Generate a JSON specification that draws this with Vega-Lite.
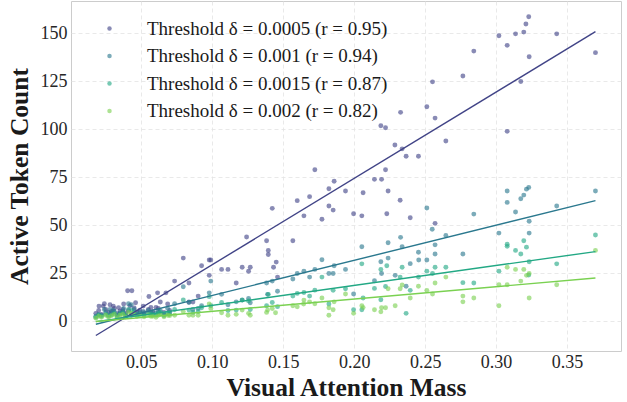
{
"$schema": "https://vega.github.io/schema/vega-lite/v6.json",
"width": 550, "height": 350,
"autosize": {"type": "none"},
"padding": {"left": 71, "top": 1, "right": 6, "bottom": 51},
"background": "white",
"config": {
 "view": {"stroke": "#cccccc", "strokeWidth": 1},
 "font": "Liberation Serif",
 "style": {"guide-label": {"font": "Liberation Serif"}, "guide-title": {"font": "Liberation Serif"}},
 "axis": {"domain": false, "ticks": false, "grid": true, "gridColor": "#e3e3e3", "gridDash": [4, 3], "gridWidth": 0.8,
  "labelFont": "Liberation Serif", "labelFontSize": 18, "labelColor": "#262626",
  "titleFont": "Liberation Serif", "titleFontSize": 25.5, "titleFontWeight": "bold", "titleColor": "#1a1a1a"}
},
"datasets": {"pts": [
{"t":"a","x":0.323,"y":158.5},{"t":"a","x":0.321,"y":154.7},{"t":"a","x":0.3195,"y":150.5},{"t":"a","x":0.3137,"y":149.6},{"t":"a","x":0.302,"y":148.6},{"t":"a","x":0.3078,"y":143.6},{"t":"a","x":0.3427,"y":149.6},{"t":"a","x":0.37,"y":139.8},{"t":"a","x":0.3233,"y":137.7},{"t":"a","x":0.2843,"y":140.6},{"t":"a","x":0.2766,"y":127.6},{"t":"a","x":0.3174,"y":124.8},{"t":"a","x":0.2552,"y":124.6},{"t":"a","x":0.3078,"y":98.8},{"t":"a","x":0.2512,"y":111.6},{"t":"a","x":0.257,"y":105.7},{"t":"a","x":0.2327,"y":108.7},{"t":"a","x":0.2188,"y":101.7},{"t":"a","x":0.2221,"y":100.7},{"t":"a","x":0.2646,"y":93.8},{"t":"a","x":0.2287,"y":91.7},{"t":"a","x":0.2338,"y":89.7},{"t":"a","x":0.2366,"y":85.8},{"t":"a","x":0.2453,"y":85.8},{"t":"a","x":0.1723,"y":78.8},{"t":"a","x":0.2221,"y":78.8},{"t":"a","x":0.2143,"y":73.8},{"t":"a","x":0.2193,"y":73.8},{"t":"a","x":0.1859,"y":72.8},{"t":"a","x":0.1822,"y":68.9},{"t":"a","x":0.1939,"y":67.7},{"t":"a","x":0.2063,"y":66.8},{"t":"a","x":0.2239,"y":67.7},{"t":"a","x":0.1686,"y":64.8},{"t":"a","x":0.2324,"y":62.9},{"t":"a","x":0.1822,"y":59.9},{"t":"a","x":0.1852,"y":57.8},{"t":"a","x":0.1646,"y":54.8},{"t":"a","x":0.1773,"y":53.0},{"t":"a","x":0.1996,"y":55.9},{"t":"a","x":0.2054,"y":54.8},{"t":"a","x":0.223,"y":55.9},{"t":"a","x":0.2395,"y":53.8},{"t":"a","x":0.257,"y":50.9},{"t":"a","x":0.1423,"y":58.7},{"t":"a","x":0.1599,"y":62.7},{"t":"a","x":0.1242,"y":43.8},{"t":"a","x":0.1383,"y":41.8},{"t":"a","x":0.1568,"y":41.8},{"t":"a","x":0.1395,"y":36.8},{"t":"a","x":0.1395,"y":34.7},{"t":"a","x":0.1451,"y":30.7},{"t":"a","x":0.1432,"y":28.0},{"t":"a","x":0.146,"y":22.9},{"t":"a","x":0.1211,"y":28.0},{"t":"a","x":0.1268,"y":28.0},{"t":"a","x":0.1256,"y":25.9},{"t":"a","x":0.1066,"y":26.9},{"t":"a","x":0.1111,"y":26.9},{"t":"a","x":0.0979,"y":31.8},{"t":"a","x":0.099,"y":31.8},{"t":"a","x":0.0925,"y":28.8},{"t":"a","x":0.0979,"y":23.8},{"t":"a","x":0.1169,"y":19.8},{"t":"a","x":0.0836,"y":19.8},{"t":"a","x":0.0901,"y":13.0},{"t":"a","x":0.0864,"y":9.9},{"t":"a","x":0.0836,"y":9.9},{"t":"a","x":0.0796,"y":32.8},{"t":"a","x":0.0735,"y":20.8},{"t":"a","x":0.0404,"y":15.8},{"t":"a","x":0.0434,"y":15.8},{"t":"a","x":0.0554,"y":12.8},{"t":"a","x":0.0615,"y":14.7},{"t":"a","x":0.0674,"y":14.7},{"t":"a","x":0.0634,"y":9.9},{"t":"a","x":0.0686,"y":8.9},{"t":"a","x":0.0568,"y":7.1},{"t":"a","x":0.0604,"y":7.1},{"t":"a","x":0.0202,"y":7.8},{"t":"a","x":0.0232,"y":7.8},{"t":"a","x":0.0303,"y":7.8},{"t":"a","x":0.0376,"y":8.9},{"t":"a","x":0.0514,"y":7.8},{"t":"a","x":0.018,"y":4.0},{"t":"a","x":0.02,"y":5.5},{"t":"a","x":0.022,"y":3.5},{"t":"a","x":0.025,"y":6.0},{"t":"a","x":0.027,"y":4.5},{"t":"a","x":0.029,"y":5.0},{"t":"a","x":0.031,"y":6.5},{"t":"a","x":0.033,"y":3.8},{"t":"a","x":0.035,"y":5.2},{"t":"a","x":0.037,"y":6.0},{"t":"a","x":0.039,"y":4.2},{"t":"a","x":0.041,"y":5.5},{"t":"a","x":0.043,"y":3.0},{"t":"a","x":0.045,"y":6.8},{"t":"a","x":0.047,"y":4.8},{"t":"a","x":0.049,"y":5.6},{"t":"a","x":0.052,"y":4.4},{"t":"a","x":0.055,"y":6.0},{"t":"a","x":0.058,"y":5.0},{"t":"a","x":0.062,"y":6.5},{"t":"a","x":0.066,"y":4.5},{"t":"a","x":0.07,"y":5.5},{"t":"a","x":0.024,"y":9.0},{"t":"a","x":0.028,"y":8.5},{"t":"a","x":0.034,"y":7.0},{"t":"a","x":0.046,"y":9.5},{"t":"a","x":0.042,"y":8.0},
{"t":"b","x":0.323,"y":69.6},{"t":"b","x":0.3214,"y":68.7},{"t":"b","x":0.3174,"y":63.7},{"t":"b","x":0.3195,"y":65.6},{"t":"b","x":0.3078,"y":67.7},{"t":"b","x":0.3078,"y":61.8},{"t":"b","x":0.3137,"y":56.8},{"t":"b","x":0.3427,"y":59.9},{"t":"b","x":0.37,"y":67.7},{"t":"b","x":0.3233,"y":52.0},{"t":"b","x":0.302,"y":45.8},{"t":"b","x":0.3233,"y":45.8},{"t":"b","x":0.2843,"y":55.7},{"t":"b","x":0.2766,"y":34.9},{"t":"b","x":0.2512,"y":58.9},{"t":"b","x":0.2646,"y":44.6},{"t":"b","x":0.257,"y":39.7},{"t":"b","x":0.2327,"y":43.6},{"t":"b","x":0.2338,"y":38.7},{"t":"b","x":0.2239,"y":40.8},{"t":"b","x":0.2054,"y":38.7},{"t":"b","x":0.2188,"y":30.9},{"t":"b","x":0.2239,"y":32.8},{"t":"b","x":0.2453,"y":35.8},{"t":"b","x":0.2395,"y":29.9},{"t":"b","x":0.2512,"y":31.8},{"t":"b","x":0.257,"y":34.9},{"t":"b","x":0.255,"y":47.8},{"t":"b","x":0.1773,"y":31.9},{"t":"b","x":0.1723,"y":26.9},{"t":"b","x":0.1859,"y":28.8},{"t":"b","x":0.1939,"y":26.9},{"t":"b","x":0.1822,"y":24.8},{"t":"b","x":0.1646,"y":26.0},{"t":"b","x":0.1686,"y":22.9},{"t":"b","x":0.2143,"y":21.0},{"t":"b","x":0.2193,"y":24.8},{"t":"b","x":0.2289,"y":23.8},{"t":"b","x":0.2366,"y":18.1},{"t":"b","x":0.1996,"y":14.1},{"t":"b","x":0.2455,"y":31.8},{"t":"b","x":0.099,"y":20.8},{"t":"b","x":0.0979,"y":14.7},{"t":"b","x":0.1066,"y":13.9},{"t":"b","x":0.1599,"y":24.8},{"t":"b","x":0.1568,"y":21.9},{"t":"b","x":0.1383,"y":19.8},{"t":"b","x":0.1423,"y":20.8},{"t":"b","x":0.139,"y":13.9},{"t":"b","x":0.1256,"y":11.8},{"t":"b","x":0.1211,"y":10.9},{"t":"b","x":0.0836,"y":9.7},{"t":"b","x":0.0796,"y":17.9},{"t":"b","x":0.0735,"y":9.0},{"t":"b","x":0.1852,"y":24.8},{"t":"b","x":0.1111,"y":8.5},{"t":"b","x":0.1169,"y":10.0},{"t":"b","x":0.146,"y":15.5},{"t":"b","x":0.1268,"y":9.5},{"t":"b","x":0.0925,"y":8.0},{"t":"b","x":0.0901,"y":6.5},{"t":"b","x":0.0864,"y":6.0},{"t":"b","x":0.0634,"y":5.5},{"t":"b","x":0.0686,"y":6.5},{"t":"b","x":0.0568,"y":4.5},{"t":"b","x":0.0604,"y":4.2},{"t":"b","x":0.018,"y":2.5},{"t":"b","x":0.02,"y":3.5},{"t":"b","x":0.022,"y":3.0},{"t":"b","x":0.025,"y":4.5},{"t":"b","x":0.027,"y":3.2},{"t":"b","x":0.029,"y":4.0},{"t":"b","x":0.031,"y":5.0},{"t":"b","x":0.033,"y":3.0},{"t":"b","x":0.035,"y":4.2},{"t":"b","x":0.037,"y":5.0},{"t":"b","x":0.039,"y":3.5},{"t":"b","x":0.041,"y":9.0},{"t":"b","x":0.043,"y":8.5},{"t":"b","x":0.045,"y":6.0},{"t":"b","x":0.047,"y":3.8},{"t":"b","x":0.049,"y":4.5},{"t":"b","x":0.052,"y":3.5},{"t":"b","x":0.055,"y":5.5},{"t":"b","x":0.058,"y":4.0},{"t":"b","x":0.062,"y":5.0},{"t":"b","x":0.066,"y":3.5},{"t":"b","x":0.07,"y":4.5},{"t":"b","x":0.024,"y":6.0},{"t":"b","x":0.028,"y":6.0},{"t":"b","x":0.0303,"y":5.5},{"t":"b","x":0.0376,"y":6.5},{"t":"b","x":0.0514,"y":5.0},
{"t":"c","x":0.37,"y":44.8},{"t":"c","x":0.3233,"y":30.9},{"t":"c","x":0.3214,"y":38.5},{"t":"c","x":0.3195,"y":41.8},{"t":"c","x":0.3174,"y":34.9},{"t":"c","x":0.3137,"y":36.8},{"t":"c","x":0.3078,"y":40.0},{"t":"c","x":0.3078,"y":38.9},{"t":"c","x":0.3427,"y":29.8},{"t":"c","x":0.302,"y":26.0},{"t":"c","x":0.323,"y":24.0},{"t":"c","x":0.2843,"y":19.8},{"t":"c","x":0.2766,"y":20.0},{"t":"c","x":0.2646,"y":28.0},{"t":"c","x":0.257,"y":28.0},{"t":"c","x":0.2512,"y":26.0},{"t":"c","x":0.2552,"y":24.8},{"t":"c","x":0.2338,"y":28.0},{"t":"c","x":0.2324,"y":22.9},{"t":"c","x":0.223,"y":28.8},{"t":"c","x":0.2188,"y":26.9},{"t":"c","x":0.2143,"y":17.0},{"t":"c","x":0.2054,"y":29.8},{"t":"c","x":0.2453,"y":22.9},{"t":"c","x":0.2188,"y":11.1},{"t":"c","x":0.2366,"y":4.0},{"t":"c","x":0.2221,"y":18.0},{"t":"c","x":0.2395,"y":16.0},{"t":"c","x":0.2063,"y":12.0},{"t":"c","x":0.1939,"y":16.8},{"t":"c","x":0.1723,"y":16.1},{"t":"c","x":0.1646,"y":14.9},{"t":"c","x":0.1773,"y":22.9},{"t":"c","x":0.1822,"y":8.9},{"t":"c","x":0.1852,"y":16.0},{"t":"c","x":0.1686,"y":13.0},{"t":"c","x":0.1996,"y":5.9},{"t":"c","x":0.2054,"y":5.9},{"t":"c","x":0.1599,"y":14.4},{"t":"c","x":0.1568,"y":13.0},{"t":"c","x":0.1395,"y":13.9},{"t":"c","x":0.1423,"y":9.7},{"t":"c","x":0.1211,"y":11.0},{"t":"c","x":0.1256,"y":10.5},{"t":"c","x":0.1066,"y":9.7},{"t":"c","x":0.0979,"y":12.7},{"t":"c","x":0.0925,"y":6.9},{"t":"c","x":0.1169,"y":5.7},{"t":"c","x":0.0836,"y":5.7},{"t":"c","x":0.1383,"y":8.0},{"t":"c","x":0.146,"y":7.5},{"t":"c","x":0.1268,"y":6.0},{"t":"c","x":0.1111,"y":5.5},{"t":"c","x":0.099,"y":8.0},{"t":"c","x":0.0796,"y":11.0},{"t":"c","x":0.0735,"y":6.0},{"t":"c","x":0.0901,"y":5.0},{"t":"c","x":0.0864,"y":4.5},{"t":"c","x":0.018,"y":2.0},{"t":"c","x":0.02,"y":3.0},{"t":"c","x":0.022,"y":2.5},{"t":"c","x":0.025,"y":3.5},{"t":"c","x":0.027,"y":2.5},{"t":"c","x":0.029,"y":3.2},{"t":"c","x":0.031,"y":4.0},{"t":"c","x":0.033,"y":2.2},{"t":"c","x":0.035,"y":3.5},{"t":"c","x":0.037,"y":4.2},{"t":"c","x":0.039,"y":2.8},{"t":"c","x":0.041,"y":6.0},{"t":"c","x":0.043,"y":5.5},{"t":"c","x":0.045,"y":4.5},{"t":"c","x":0.047,"y":3.0},{"t":"c","x":0.049,"y":3.5},{"t":"c","x":0.052,"y":2.8},{"t":"c","x":0.055,"y":4.0},{"t":"c","x":0.058,"y":3.2},{"t":"c","x":0.062,"y":4.0},{"t":"c","x":0.066,"y":2.8},{"t":"c","x":0.07,"y":3.5},{"t":"c","x":0.0568,"y":3.5},{"t":"c","x":0.0604,"y":3.0},{"t":"c","x":0.0634,"y":4.5},{"t":"c","x":0.0686,"y":4.0},
{"t":"e","x":0.37,"y":36.8},{"t":"e","x":0.3233,"y":24.8},{"t":"e","x":0.3214,"y":23.8},{"t":"e","x":0.3195,"y":26.9},{"t":"e","x":0.3137,"y":26.9},{"t":"e","x":0.3174,"y":20.8},{"t":"e","x":0.3078,"y":28.0},{"t":"e","x":0.3078,"y":18.9},{"t":"e","x":0.302,"y":18.9},{"t":"e","x":0.302,"y":8.0},{"t":"e","x":0.3233,"y":12.0},{"t":"e","x":0.3427,"y":18.9},{"t":"e","x":0.2843,"y":12.0},{"t":"e","x":0.2766,"y":10.0},{"t":"e","x":0.2766,"y":13.0},{"t":"e","x":0.2646,"y":22.9},{"t":"e","x":0.257,"y":19.8},{"t":"e","x":0.2552,"y":14.1},{"t":"e","x":0.2453,"y":18.1},{"t":"e","x":0.2324,"y":16.8},{"t":"e","x":0.2338,"y":18.8},{"t":"e","x":0.2289,"y":8.0},{"t":"e","x":0.2239,"y":16.8},{"t":"e","x":0.2221,"y":6.9},{"t":"e","x":0.2193,"y":6.9},{"t":"e","x":0.2188,"y":4.8},{"t":"e","x":0.2143,"y":5.9},{"t":"e","x":0.2054,"y":8.0},{"t":"e","x":0.2063,"y":7.0},{"t":"e","x":0.1996,"y":4.0},{"t":"e","x":0.1939,"y":14.1},{"t":"e","x":0.1822,"y":3.0},{"t":"e","x":0.1852,"y":5.9},{"t":"e","x":0.1822,"y":6.9},{"t":"e","x":0.1723,"y":9.0},{"t":"e","x":0.1686,"y":10.0},{"t":"e","x":0.1646,"y":10.9},{"t":"e","x":0.2395,"y":12.0},{"t":"e","x":0.2512,"y":16.0},{"t":"e","x":0.139,"y":5.7},{"t":"e","x":0.1446,"y":4.3},{"t":"e","x":0.1423,"y":6.5},{"t":"e","x":0.1268,"y":3.0},{"t":"e","x":0.1211,"y":5.7},{"t":"e","x":0.1066,"y":4.3},{"t":"e","x":0.1111,"y":3.0},{"t":"e","x":0.0979,"y":8.9},{"t":"e","x":0.099,"y":6.6},{"t":"e","x":0.0901,"y":3.0},{"t":"e","x":0.0864,"y":3.0},{"t":"e","x":0.0836,"y":3.0},{"t":"e","x":0.1644,"y":8.9},{"t":"e","x":0.1599,"y":7.4},{"t":"e","x":0.1568,"y":8.0},{"t":"e","x":0.1773,"y":12.0},{"t":"e","x":0.1859,"y":10.0},{"t":"e","x":0.1256,"y":4.0},{"t":"e","x":0.1169,"y":3.5},{"t":"e","x":0.1383,"y":4.5},{"t":"e","x":0.0796,"y":5.0},{"t":"e","x":0.0735,"y":3.0},{"t":"e","x":0.018,"y":1.5},{"t":"e","x":0.02,"y":2.5},{"t":"e","x":0.022,"y":2.0},{"t":"e","x":0.025,"y":3.0},{"t":"e","x":0.027,"y":2.0},{"t":"e","x":0.029,"y":2.8},{"t":"e","x":0.031,"y":3.5},{"t":"e","x":0.033,"y":1.8},{"t":"e","x":0.035,"y":3.0},{"t":"e","x":0.037,"y":3.5},{"t":"e","x":0.039,"y":2.2},{"t":"e","x":0.041,"y":4.5},{"t":"e","x":0.043,"y":4.0},{"t":"e","x":0.045,"y":3.5},{"t":"e","x":0.047,"y":2.5},{"t":"e","x":0.049,"y":3.0},{"t":"e","x":0.052,"y":2.2},{"t":"e","x":0.055,"y":3.2},{"t":"e","x":0.058,"y":2.5},{"t":"e","x":0.062,"y":3.0},{"t":"e","x":0.066,"y":2.2},{"t":"e","x":0.07,"y":2.8},{"t":"e","x":0.0568,"y":2.5},{"t":"e","x":0.0604,"y":2.0},{"t":"e","x":0.0634,"y":3.5},{"t":"e","x":0.0686,"y":3.0}
]},
"data": {"name": "pts"},
"encoding": {
 "x": {"field": "x", "type": "quantitative", "scale": {"domain": [0.0005, 0.388], "nice": false, "zero": false},
  "axis": {"values": [0.05, 0.1, 0.15, 0.2, 0.25, 0.3, 0.35], "format": ".2f", "title": "Visual Attention Mass", "labelFont": "Liberation Serif", "labelFontSize": 18, "labelPadding": 2, "titlePadding": 4}},
 "y": {"field": "y", "type": "quantitative", "scale": {"domain": [-15.6, 166.7], "nice": false, "zero": false},
  "axis": {"values": [0, 25, 50, 75, 100, 125, 150], "title": "Active Token Count", "labelFont": "Liberation Serif", "labelFontSize": 18, "labelPadding": 4, "titlePadding": 8}}
},
"layer": [
 {"mark": {"type": "circle", "size": 24, "opacity": 0.62},
  "encoding": {"fill": {"field": "t", "type": "nominal",
   "scale": {"domain": ["a", "b", "c", "e"], "range": ["#414487", "#2a788e", "#22a884", "#7ad151"]},
   "legend": {"orient": "none", "legendX": 29, "legendY": 18, "title": null, "padding": 0,
    "labelFont": "Liberation Serif", "labelFontSize": 19, "labelColor": "#1a1a1a", "labelLimit": 0, "symbolType": "circle", "symbolSize": 20, "symbolOpacity": 0.62, "symbolStrokeWidth": 0,
    "rowPadding": 7.5, "labelOffset": 28,
    "labelExpr": "datum.label == 'a' ? 'Threshold δ = 0.0005 (r = 0.95)' : datum.label == 'b' ? 'Threshold δ = 0.001 (r = 0.94)' : datum.label == 'c' ? 'Threshold δ = 0.0015 (r = 0.87)' : 'Threshold δ = 0.002 (r = 0.82)'"}}}},
 {"transform": [{"regression": "y", "on": "x", "groupby": ["t"]}],
  "mark": {"type": "line", "strokeWidth": 1.4},
  "encoding": {"stroke": {"field": "t", "type": "nominal",
   "scale": {"domain": ["a", "b", "c", "e"], "range": ["#414487", "#2a788e", "#22a884", "#7ad151"]}, "legend": null}}}
]
}
